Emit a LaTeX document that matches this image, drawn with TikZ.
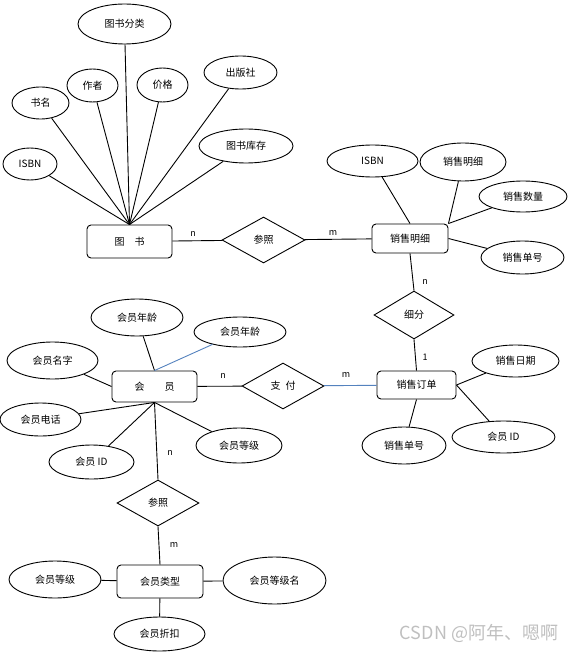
\documentclass[tikz,border=0pt]{standalone}
\usepackage{fontspec}
\setmainfont{Noto Sans CJK SC}
\usetikzlibrary{shapes.geometric}
\definecolor{linkblue}{RGB}{84,130,190}
\begin{document}
\begin{tikzpicture}[x=1pt, y=-1pt, line width=0.9pt,
    entity/.style={draw, rectangle, rounded corners=4pt, inner sep=0pt, font=\fontsize{10}{12}\selectfont},
    attr/.style={draw, ellipse, inner sep=0pt, font=\fontsize{10}{12}\selectfont},
    rel/.style={draw, diamond, inner sep=0pt, font=\fontsize{10}{12}\selectfont},
    card/.style={inner sep=0pt, font=\fontsize{9}{11}\selectfont}]
    \useasboundingbox (0,0) rectangle (582,652);

    % entities
    \node[entity, minimum width=85pt, minimum height=33pt] (tushu) at (129.5,241.5) {图\hspace{1em}书};
    \node[entity, minimum width=76pt, minimum height=29pt] (mingxi) at (410,238.5) {销售明细};
    \node[entity, minimum width=85pt, minimum height=31pt] (huiyuan) at (154.5,386.5) {会\hspace{2em}员};
    \node[entity, minimum width=79pt, minimum height=28pt] (dingdan) at (416.5,385) {销售订单};
    \node[entity, minimum width=86pt, minimum height=33pt] (leixing) at (160,581.5) {会员类型};

    % relationships
    \node[rel, minimum width=83pt, minimum height=46pt] (canzhaoA) at (263.5,240) {参照};
    \node[rel, minimum width=80pt, minimum height=48pt] (xifen) at (414,315) {细分};
    \node[rel, minimum width=82pt, minimum height=46pt] (zhifu) at (283,386) {支\hspace{0.5em}付};
    \node[rel, minimum width=82pt, minimum height=46pt] (canzhaoB) at (158,503) {参照};

    % attributes of 图书
    \node[attr, minimum width=93pt, minimum height=40pt] (fenlei) at (124.5,24) {图书分类};
    \node[attr, minimum width=51pt, minimum height=33pt] (zuozhe) at (92.5,85.5) {作者};
    \node[attr, minimum width=51pt, minimum height=34pt] (jiage) at (162.5,85) {价格};
    \node[attr, minimum width=73pt, minimum height=33pt] (chuban) at (240.5,72.5) {出版社};
    \node[attr, minimum width=57pt, minimum height=32pt] (shuming) at (40.5,103) {书名};
    \node[attr, minimum width=54pt, minimum height=32pt] (isbnA) at (30,164) {ISBN};
    \node[attr, minimum width=94pt, minimum height=34pt] (kucun) at (246,146) {图书库存};

    % attributes of 销售明细
    \node[attr, minimum width=91pt, minimum height=32pt] (isbnB) at (372.5,161) {ISBN};
    \node[attr, minimum width=86pt, minimum height=38pt] (mingxiA) at (463,162) {销售明细};
    \node[attr, minimum width=88pt, minimum height=31pt] (shuliang) at (523,196.5) {销售数量};
    \node[attr, minimum width=83pt, minimum height=33pt] (danhaoA) at (522.5,257.5) {销售单号};

    % attributes of 会员
    \node[attr, minimum width=92pt, minimum height=37pt] (nianlingA) at (137,317.5) {会员年龄};
    \node[attr, minimum width=92pt, minimum height=30pt] (nianlingB) at (240,332) {会员年龄};
    \node[attr, minimum width=91pt, minimum height=37pt] (mingzi) at (52.5,360.5) {会员名字};
    \node[attr, minimum width=81pt, minimum height=33pt] (dianhua) at (40.5,419.5) {会员电话};
    \node[attr, minimum width=85pt, minimum height=34pt] (idA) at (91.5,462) {会员 ID};
    \node[attr, minimum width=86pt, minimum height=35pt] (dengjiA) at (239,445.5) {会员等级};

    % attributes of 销售订单
    \node[attr, minimum width=87pt, minimum height=32pt] (riqi) at (515.5,361) {销售日期};
    \node[attr, minimum width=84pt, minimum height=37pt] (danhaoB) at (404,445.5) {销售单号};
    \node[attr, minimum width=103pt, minimum height=32pt] (idB) at (503.5,437) {会员 ID};

    % attributes of 会员类型
    \node[attr, minimum width=92pt, minimum height=37pt] (dengjiB) at (55,579.5) {会员等级};
    \node[attr, minimum width=103pt, minimum height=47pt] (dengjiming) at (274.5,580.5) {会员等级名};
    \node[attr, minimum width=91pt, minimum height=34pt] (zhekou) at (159.5,634) {会员折扣};

    % cardinalities
    \node[card] (cardA) at (193,234) {n};
    \node[card] (cardB) at (333,233) {m};
    \node[card] (cardC) at (425,282) {n};
    \node[card] (cardD) at (425,357) {1};
    \node[card] (cardE) at (223,376) {n};
    \node[card] (cardF) at (346,375) {m};
    \node[card] (cardG) at (170,453) {n};
    \node[card] (cardH) at (174,545) {m};

    % watermark
    \node[text=black!25, font=\fontsize{18}{20}\selectfont, inner sep=0pt] (mark) at (479,633) {CSDN @阿年、嗯啊};

    % links
    \foreach \a in {fenlei, zuozhe, jiage, chuban, shuming, isbnA, kucun}
        \draw (\a) -- (tushu.north);
    \draw (tushu) -- (canzhaoA);
    \draw (canzhaoA) -- (mingxi);
    \draw (isbnB) -- (mingxi.north);
    \draw (mingxiA) -- (mingxi.north east);
    \draw (shuliang) -- (mingxi.north east);
    \draw (danhaoA) -- (mingxi.east);
    \draw (mingxi.south) -- (xifen.north);
    \draw (xifen.south) -- (dingdan.north);

    \draw (nianlingA) -- (huiyuan.north);
    \draw[linkblue] (nianlingB) -- (huiyuan.north);
    \draw (mingzi) -- (huiyuan.west);
    \foreach \a in {dianhua, idA, dengjiA}
        \draw (\a) -- (huiyuan.south);
    \draw (huiyuan.south) -- (canzhaoB.north);
    \draw (huiyuan) -- (zhifu);
    \draw[linkblue] (zhifu) -- (dingdan);

    \draw (riqi) -- (dingdan.east);
    \draw (idB) -- (dingdan.east);
    \draw (danhaoB) -- (dingdan.south);

    \draw (canzhaoB.south) -- (leixing.north);
    \draw (dengjiB) -- (leixing);
    \draw (dengjiming) -- (leixing);
    \draw (zhekou) -- (leixing);
\end{tikzpicture}
\end{document}
